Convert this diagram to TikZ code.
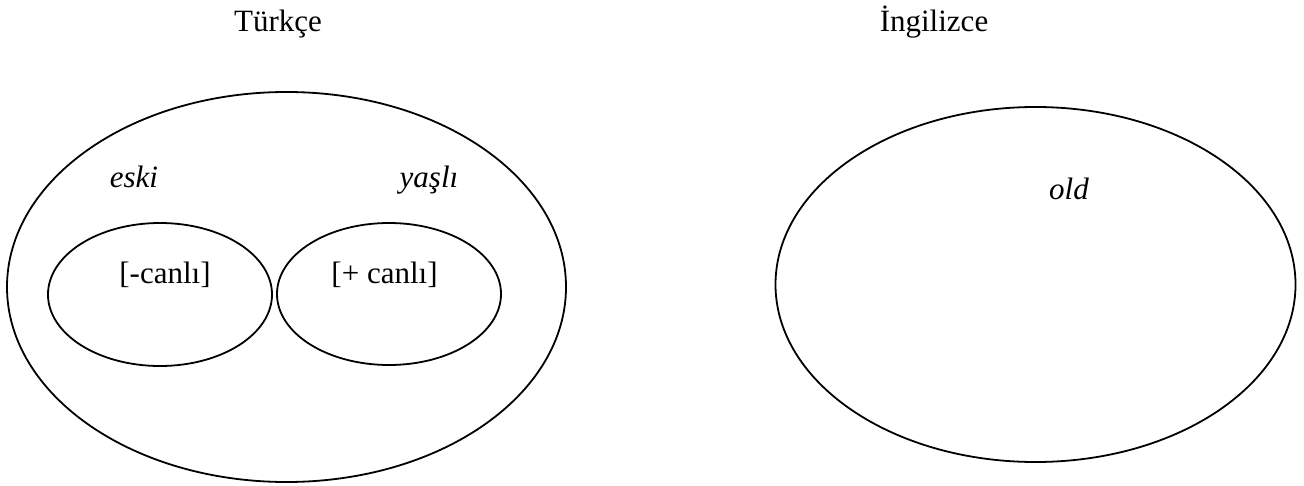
\documentclass[tikz,border=0pt]{standalone}
\usepackage{fontspec}
\setmainfont{Liberation Serif}
\usetikzlibrary{positioning,shapes.geometric}
\tikzset{
  x=0.5pt, y=-0.5pt,
  every node/.style={font=\fontsize{15.5}{18}\selectfont, inner sep=0pt},
  set/.style={draw, ellipse, line width=0.9pt},
  title/.style={anchor=base},
  word/.style={anchor=base, font=\fontsize{15.5}{18}\selectfont\itshape},
  feature/.style={anchor=base}
}
\begin{document}
\begin{tikzpicture}

  \useasboundingbox (0,0) rectangle (1304,486);

  %% ==================================================================
  %% Turkish
  %% ==================================================================
  \node[title] (tr) at (278,32) {Türkçe};

  \node[set, minimum width=279.5pt, minimum height=195pt] (trset) at (286.5,287) {};
  \node[set, minimum width=112pt, minimum height=71.5pt] (cansiz) at (160,294.5) {};
  \node[set, minimum width=112pt, minimum height=71pt] (canli)  at (389,294) {};

  % words
  \node[word] (eski)  at (134,188) {eski};
  \node[word] (yasli) at (429,188) {yaşlı};

  % features
  \node[feature] (minus) at (165,283) {[-canlı]};
  \node[feature] (plus)  at (384.5,283) {[+ canlı]};

  %% ==================================================================
  %% English
  %% ==================================================================
  \node[title] (en) at (934,32) {İngilizce};

  \node[set, minimum width=260pt, minimum height=177.5pt] (enset) at (1035.5,284.5) {};
  \node[word] (old) at (1069,199) {old};

\end{tikzpicture}
\end{document}
